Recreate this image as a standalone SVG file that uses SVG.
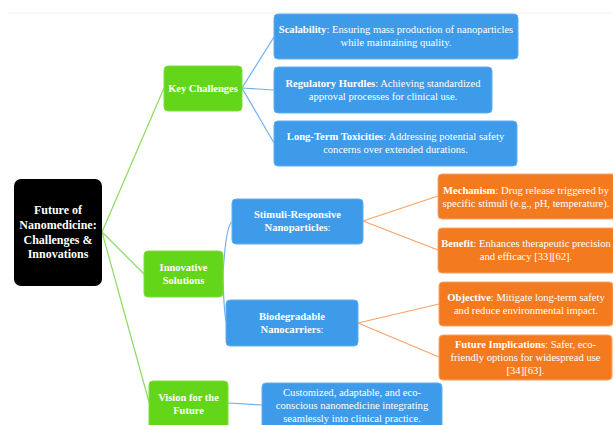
<svg xmlns="http://www.w3.org/2000/svg" width="613" height="425" viewBox="0 0 613 425">
<style>
text{font-family:"Liberation Serif","Times New Roman",serif;fill:#fff;text-anchor:middle}
.b{font-weight:bold}
.t{font-size:10.6px}
.g{fill:#63D61A;stroke:#7EDD3E;stroke-width:1}
.bl{fill:#3D9BEA;stroke:#62AEF0;stroke-width:1}
.o{fill:#F47A20;stroke:#F8A469;stroke-width:1}
.cg{stroke:#8BDB5E;stroke-width:1.2;fill:none}
.cb{stroke:#6DB0EF;stroke-width:1.2;fill:none}
.co{stroke:#F4A36C;stroke-width:1.2;fill:none}
</style>
<rect width="613" height="425" fill="#fff"/>
<line x1="8" y1="13" x2="613" y2="13" stroke="#f0f0f0" stroke-width="1"/>
<g id="connectors">
<path class="cg" d="M102,232 L164,88"/>
<path class="cg" d="M102,232 L144,274"/>
<path class="cg" d="M102,232 L149,402"/>
<path class="cb" d="M242,88 L274,37"/>
<path class="cb" d="M242,88 L274,90"/>
<path class="cb" d="M242,88 L274,143"/>
<path class="cb" d="M223,274 Q226,225 232,222"/>
<path class="cb" d="M223,274 Q224,320 227,323"/>
<path class="cb" d="M228,403 L262,405"/>
<path class="co" d="M363,221 L438,196"/>
<path class="co" d="M363,221 L438,250"/>
<path class="co" d="M358,323 L439,304"/>
<path class="co" d="M358,323 L439,357"/>
</g>
<g id="root">
<rect x="14" y="179" width="88" height="107" rx="7" fill="#000"/>
<text class="b" font-size="12"><tspan x="58" y="214">Future of</tspan><tspan x="58" y="229">Nanomedicine:</tspan><tspan x="58" y="244">Challenges &amp;</tspan><tspan x="58" y="258">Innovations</tspan></text>
</g>
<g id="key-challenges">
<rect class="g" x="164" y="66" width="78" height="45" rx="4"/>
<text class="b" font-size="10.5" x="203" y="92">Key Challenges</text>
</g>
<g id="innovative-solutions">
<rect class="g" x="144" y="251" width="79" height="46" rx="4"/>
<text class="b" font-size="10.5"><tspan x="183.5" y="271">Innovative</tspan><tspan x="183.5" y="284">Solutions</tspan></text>
</g>
<g id="vision">
<rect class="g" x="149" y="381" width="79" height="50" rx="4"/>
<text class="b" font-size="10.5"><tspan x="188.5" y="401">Vision for the</tspan><tspan x="188.5" y="414">Future</tspan></text>
</g>
<g id="scalability">
<rect class="bl" x="274" y="14" width="244" height="45" rx="4"/>
<text class="t"><tspan x="396" y="33"><tspan class="b">Scalability</tspan>: Ensuring mass production of nanoparticles</tspan><tspan x="396" y="46">while maintaining quality.</tspan></text>
</g>
<g id="regulatory">
<rect class="bl" x="274" y="67" width="218" height="46" rx="4"/>
<text class="t"><tspan x="383" y="87"><tspan class="b">Regulatory Hurdles</tspan>: Achieving standardized</tspan><tspan x="383" y="100">approval processes for clinical use.</tspan></text>
</g>
<g id="long-term">
<rect class="bl" x="274" y="121" width="243" height="45" rx="4"/>
<text class="t"><tspan x="395.5" y="140"><tspan class="b">Long-Term Toxicities</tspan>: Addressing potential safety</tspan><tspan x="395.5" y="153">concerns over extended durations.</tspan></text>
</g>
<g id="stimuli">
<rect class="bl" x="232" y="199" width="131" height="45" rx="4"/>
<text class="t"><tspan class="b" x="297.5" y="218">Stimuli-Responsive</tspan><tspan x="297.5" y="231"><tspan class="b">Nanoparticles</tspan>:</tspan></text>
</g>
<g id="biodegradable">
<rect class="bl" x="226" y="300" width="132" height="46" rx="4"/>
<text class="t"><tspan class="b" x="292" y="320">Biodegradable</tspan><tspan x="292" y="333"><tspan class="b">Nanocarriers</tspan>:</tspan></text>
</g>
<g id="customized">
<rect class="bl" x="262" y="383" width="180" height="48" rx="4"/>
<text class="t"><tspan x="352" y="396">Customized, adaptable, and eco-</tspan><tspan x="352" y="409">conscious nanomedicine integrating</tspan><tspan x="352" y="422">seamlessly into clinical practice.</tspan></text>
</g>
<g id="mechanism">
<rect class="o" x="438" y="174" width="178" height="45" rx="4"/>
<text class="t"><tspan x="526" y="194"><tspan class="b">Mechanism</tspan>: Drug release triggered by</tspan><tspan x="526" y="207">specific stimuli (e.g., pH, temperature).</tspan></text>
</g>
<g id="benefit">
<rect class="o" x="438" y="228" width="178" height="45" rx="4"/>
<text class="t"><tspan x="526" y="247"><tspan class="b">Benefit</tspan>: Enhances therapeutic precision</tspan><tspan x="526" y="260">and efficacy [33][62].</tspan></text>
</g>
<g id="objective">
<rect class="o" x="439" y="282" width="174" height="44" rx="4"/>
<text class="t"><tspan x="526" y="301"><tspan class="b">Objective</tspan>: Mitigate long-term safety</tspan><tspan x="526" y="314">and reduce environmental impact.</tspan></text>
</g>
<g id="future-implications">
<rect class="o" x="439" y="335" width="173" height="45" rx="4"/>
<text class="t"><tspan x="525.5" y="348"><tspan class="b">Future Implications</tspan>: Safer, eco-</tspan><tspan x="525.5" y="361">friendly options for widespread use</tspan><tspan x="525.5" y="374">[34][63].</tspan></text>
</g>
</svg>
